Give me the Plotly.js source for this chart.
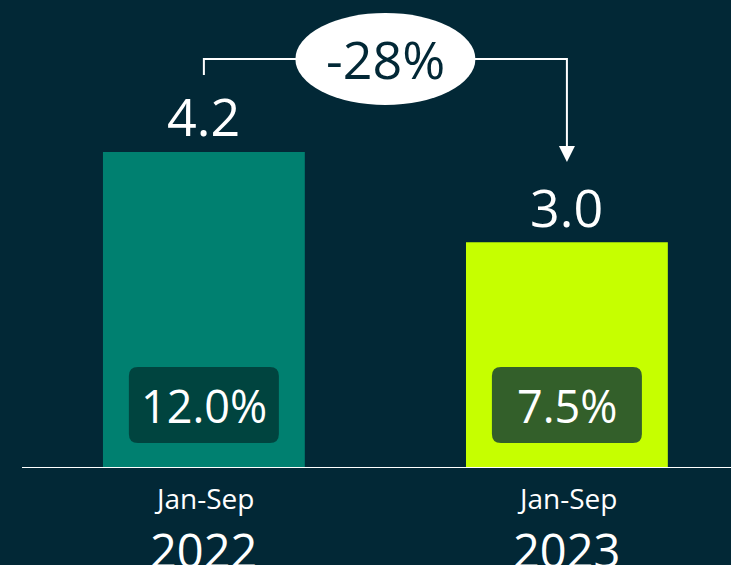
<!DOCTYPE html>
<html>
<head>
<meta charset="utf-8">
<script src="https://cdn.plot.ly/plotly-3.0.1.min.js"></script>
<style>html,body{margin:0;padding:0;background:#022836;}</style>
</head>
<body>
<div id="chart" style="width:731px;height:565px;"></div>
<script>
const periods = ['Jan-Sep', 'Jan-Sep'];
const years = ['2022', '2023'];
const values = [4.2, 3.0];
const shares = ['12.0%', '7.5%'];
const changeLabel = '-28%';

const BG = '#022836';
const barColors = ['#008070', '#c6ff00'];
const boxColors = ['#00443f', '#335f2a'];
const FONT = 'Open Sans, Liberation Sans, sans-serif';
const xIdx = values.map((v, i) => i);

function roundRect(x0, x1, y0, y1, r) {
  return `M ${x0 + r},${y0} L ${x1 - r},${y0} Q ${x1},${y0} ${x1},${y0 + r} ` +
         `L ${x1},${y1 - r} Q ${x1},${y1} ${x1 - r},${y1} L ${x0 + r},${y1} ` +
         `Q ${x0},${y1} ${x0},${y1 - r} L ${x0},${y0 + r} Q ${x0},${y0} ${x0 + r},${y0} Z`;
}

const trace = {
  type: 'bar',
  x: xIdx,
  y: values,
  marker: { color: barColors, line: { width: 0 } },
  hoverinfo: 'skip'
};

const shapes = [
  { type: 'line', xref: 'paper', x0: 0, x1: 1, yref: 'y', y0: 0, y1: 0,
    line: { color: '#ffffff', width: 2 } }
];
xIdx.forEach(i => {
  shapes.push({
    type: 'path', xref: 'x', xsizemode: 'pixel', xanchor: i,
    yref: 'y', ysizemode: 'pixel', yanchor: 0,
    path: roundRect(-75, 75, 25, 101, 9),
    fillcolor: boxColors[i], line: { width: 0 }
  });
});
// bracket
shapes.push({
  type: 'path', xref: 'x', yref: 'y', ysizemode: 'pixel', yanchor: values[0],
  path: `M 0,77 L 0,93 L 1,93 L 1,6`,
  line: { color: '#ffffff', width: 2 }
});
shapes.push({
  type: 'path', xref: 'x', xsizemode: 'pixel', xanchor: 1,
  yref: 'y', ysizemode: 'pixel', yanchor: values[0],
  path: `M -8,6 L 8,6 L 0,-10 Z`,
  fillcolor: '#ffffff', line: { width: 0 }
});
shapes.push({
  type: 'circle', xref: 'x', xsizemode: 'pixel', xanchor: 0.5, x0: -90, x1: 90,
  yref: 'y', ysizemode: 'pixel', yanchor: values[0], y0: 47, y1: 139,
  fillcolor: '#ffffff', line: { width: 0 }
});

const annotations = [];
xIdx.forEach(i => {
  annotations.push({ x: i, y: values[i], xref: 'x', yref: 'y', yshift: 36, yanchor: 'middle',
    text: values[i].toFixed(1), showarrow: false, font: { family: FONT, size: 52, color: '#ffffff' } });
  annotations.push({ x: i, y: 0, xref: 'x', yref: 'y', yshift: 63, yanchor: 'middle',
    text: shares[i], showarrow: false, font: { family: FONT, size: 45, color: '#ffffff' } });
  annotations.push({ x: i, y: 0, xref: 'x', yref: 'y', yshift: -30, yanchor: 'middle',
    text: periods[i], showarrow: false, font: { family: FONT, size: 28, color: '#ffffff' } });
  annotations.push({ x: i, y: 0, xref: 'x', yref: 'y', yshift: -82, yanchor: 'middle',
    text: years[i], showarrow: false, font: { family: FONT, size: 47, color: '#ffffff' } });
});
annotations.push({ x: 0.5, y: values[0], xref: 'x', yref: 'y', yshift: 93, yanchor: 'middle',
  text: changeLabel, showarrow: false, font: { family: FONT, size: 52, color: BG } });

const layout = {
  width: 731, height: 565,
  margin: { l: 22, r: 0, t: 0, b: 97, pad: 0 },
  paper_bgcolor: BG, plot_bgcolor: BG,
  showlegend: false,
  bargap: 0.444,
  xaxis: { range: [-0.501, 1.452], showgrid: false, zeroline: false, showticklabels: false, showline: false, fixedrange: true },
  yaxis: { range: [0, 6.22], showgrid: false, zeroline: false, showticklabels: false, showline: false, fixedrange: true },
  shapes: shapes,
  annotations: annotations
};

Plotly.newPlot('chart', [trace], layout, { displayModeBar: false, staticPlot: true });
</script>
</body>
</html>
